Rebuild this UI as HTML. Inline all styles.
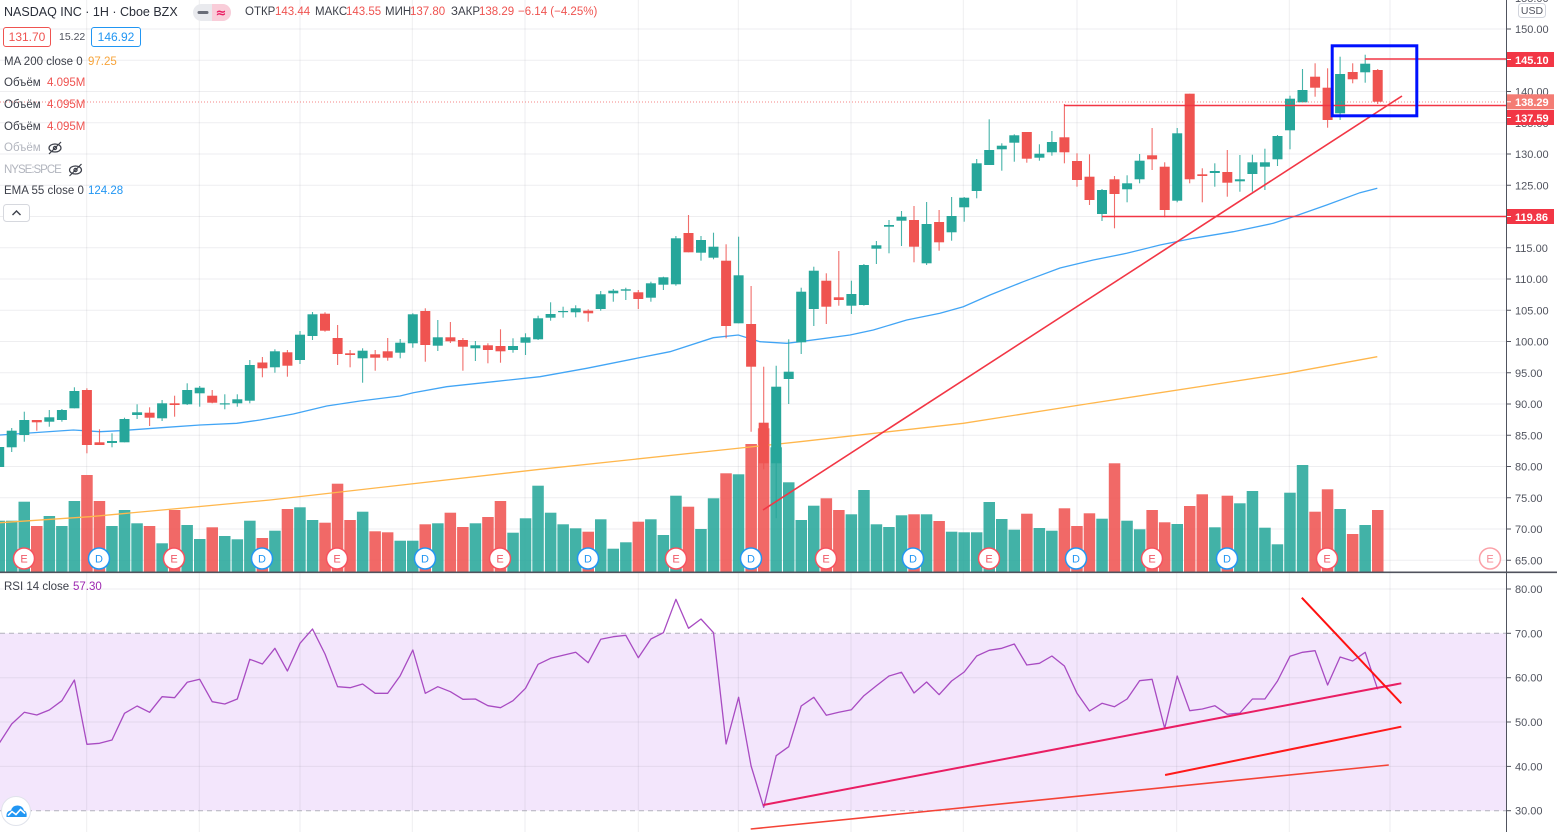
<!DOCTYPE html>
<html><head><meta charset="utf-8">
<style>
html,body{margin:0;padding:0;background:#fff;}
body{width:1557px;height:832px;overflow:hidden;position:relative;font-family:"Liberation Sans","DejaVu Sans",sans-serif;}
#c{position:absolute;left:0;top:0;}
.t{position:absolute;white-space:nowrap;font-size:11.5px;line-height:14px;color:#3d404a;}
.h{position:absolute;white-space:nowrap;font-size:11.5px;line-height:15px;top:5px;color:#3d404a;}
.r{color:#ef5350;}
.g{color:#b2b5be;}
.box{position:absolute;box-sizing:border-box;height:20px;line-height:18px;border-radius:3px;text-align:center;font-size:12px;background:#fff;}
</style></head><body>
<svg id="c" width="1557" height="832" viewBox="0 0 1557 832">
<rect x="0" y="633.3" width="1506" height="177.4" fill="#f3e6fc"/>
<g id="gGrid"></g>
<line x1="0" y1="633.3" x2="1506" y2="633.3" stroke="#9598a1" stroke-opacity="0.7" stroke-dasharray="5 4"/>
<line x1="0" y1="810.7" x2="1506" y2="810.7" stroke="#9598a1" stroke-opacity="0.7" stroke-dasharray="5 4"/>
<g id="gVol"></g>
<polyline fill="none" stroke="#ffb74d" stroke-width="1.3" points="0,522.7 90,516.7 270,500 540,469.3 800,441.7 963.3,423.3 1080,405 1286.7,373.3 1377.3,356.7"/>
<polyline fill="none" stroke="#42a5f5" stroke-width="1.3" points="0,435 73.3,430 100,431.7 120,430.7 166.7,427.3 200,425 236.7,423.3 260,420 293.3,414 326.7,406 360,401 400,396 413.3,392.7 446.7,386.7 493.3,381.7 540,376.7 586.7,368.3 636.7,358.3 670,351.7 713.3,337.7 738.3,335 760,341.7 786.7,343.3 800,341.7 850,335 873.3,330 906.7,320 940,313.3 963.3,306.7 990,295 1023.3,281.7 1060,268 1093.3,260 1126.7,253.3 1160,245 1193.3,238.3 1233.3,231.7 1273.3,223.3 1293.3,216.7 1326.7,205 1360,192.7 1377.3,188.3"/>
<g id="gCandle"></g>
<line x1="0" y1="102" x2="1506" y2="102" stroke="#ef5350" stroke-opacity="0.7" stroke-dasharray="1 2"/>
<line x1="763" y1="510" x2="1402" y2="96" stroke="#f23645" stroke-width="1.6"/>
<line x1="1365" y1="59" x2="1506" y2="59" stroke="#f23645" stroke-width="1.6"/>
<line x1="1064" y1="105.5" x2="1506" y2="105.5" stroke="#f23645" stroke-width="1.6"/>
<line x1="1102" y1="216.5" x2="1506" y2="216.5" stroke="#f23645" stroke-width="1.6"/>
<rect x="1332.2" y="45.8" width="84.6" height="70" fill="none" stroke="#0011ff" stroke-width="3"/>
<g font-size="11" text-anchor="middle" font-family="Liberation Sans, sans-serif">
<g fill="#fff" stroke="#f7525f" stroke-width="1.5">
<circle cx="24" cy="558.5" r="10.5"/><circle cx="174" cy="558.5" r="10.5"/><circle cx="337" cy="558.5" r="10.5"/><circle cx="500" cy="558.5" r="10.5"/><circle cx="676" cy="558.5" r="10.5"/><circle cx="826" cy="558.5" r="10.5"/><circle cx="989" cy="558.5" r="10.5"/><circle cx="1152" cy="558.5" r="10.5"/><circle cx="1327" cy="558.5" r="10.5"/>
<circle cx="1490" cy="558.5" r="10.5" stroke-opacity="0.55"/>
</g>
<g fill="#fff" stroke="#2196f3" stroke-width="1.5">
<circle cx="99" cy="558.5" r="10.5"/><circle cx="262" cy="558.5" r="10.5"/><circle cx="425" cy="558.5" r="10.5"/><circle cx="588" cy="558.5" r="10.5"/><circle cx="751" cy="558.5" r="10.5"/><circle cx="913" cy="558.5" r="10.5"/><circle cx="1076" cy="558.5" r="10.5"/><circle cx="1227" cy="558.5" r="10.5"/>
</g>
<g fill="#f05a68">
<text x="24" y="562.5">E</text><text x="174" y="562.5">E</text><text x="337" y="562.5">E</text><text x="500" y="562.5">E</text><text x="676" y="562.5">E</text><text x="826" y="562.5">E</text><text x="989" y="562.5">E</text><text x="1152" y="562.5">E</text><text x="1327" y="562.5">E</text><text x="1490" y="562.5" fill-opacity="0.7">E</text>
</g>
<g fill="#2196f3">
<text x="99" y="562.5">D</text><text x="262" y="562.5">D</text><text x="425" y="562.5">D</text><text x="588" y="562.5">D</text><text x="751" y="562.5">D</text><text x="913" y="562.5">D</text><text x="1076" y="562.5">D</text><text x="1227" y="562.5">D</text>
</g>
</g>
<g id="gRsi"></g>
<line x1="763.3" y1="805" x2="1401.3" y2="683.3" stroke="#e91e63" stroke-width="2"/>
<line x1="1165.1" y1="775" x2="1401.3" y2="726.7" stroke="#ff1a1a" stroke-width="2"/>
<line x1="750.7" y1="829" x2="1388.8" y2="765" stroke="#f44336" stroke-width="1.6"/>
<line x1="1301.8" y1="597.7" x2="1401.3" y2="703.3" stroke="#ff1111" stroke-width="2"/>
<rect x="1507" y="0" width="50" height="832" fill="#fff"/>
<line x1="1506.5" y1="0" x2="1506.5" y2="832" stroke="#50535e" stroke-width="1"/>
<line x1="0" y1="572.3" x2="1557" y2="572.3" stroke="#50535e" stroke-width="1.6"/>
<g stroke="#50535e" stroke-width="1">
<line x1="1506" y1="29" x2="1511" y2="29"/><line x1="1506" y1="91.5" x2="1511" y2="91.5"/><line x1="1506" y1="122.75" x2="1511" y2="122.75"/><line x1="1506" y1="154" x2="1511" y2="154"/><line x1="1506" y1="185.25" x2="1511" y2="185.25"/><line x1="1506" y1="247.75" x2="1511" y2="247.75"/><line x1="1506" y1="279" x2="1511" y2="279"/><line x1="1506" y1="310.25" x2="1511" y2="310.25"/><line x1="1506" y1="341.5" x2="1511" y2="341.5"/><line x1="1506" y1="372.75" x2="1511" y2="372.75"/><line x1="1506" y1="404" x2="1511" y2="404"/><line x1="1506" y1="435.25" x2="1511" y2="435.25"/><line x1="1506" y1="466.5" x2="1511" y2="466.5"/><line x1="1506" y1="497.75" x2="1511" y2="497.75"/><line x1="1506" y1="529" x2="1511" y2="529"/><line x1="1506" y1="560.25" x2="1511" y2="560.25"/>
<line x1="1506" y1="589" x2="1511" y2="589"/><line x1="1506" y1="633.3" x2="1511" y2="633.3"/><line x1="1506" y1="677.7" x2="1511" y2="677.7"/><line x1="1506" y1="722" x2="1511" y2="722"/><line x1="1506" y1="766.4" x2="1511" y2="766.4"/><line x1="1506" y1="810.7" x2="1511" y2="810.7"/>
</g>
<g fill="#50535e" font-size="11" font-family="Liberation Sans, sans-serif">
<text x="1515" y="2">155.00</text>
<text x="1515" y="33">150.00</text>
<text x="1515" y="64.25">145.00</text>
<text x="1515" y="95.5">140.00</text>
<text x="1515" y="126.75">135.00</text>
<text x="1515" y="158">130.00</text>
<text x="1515" y="189.25">125.00</text>
<text x="1515" y="220.5">120.00</text>
<text x="1515" y="251.75">115.00</text>
<text x="1515" y="283">110.00</text>
<text x="1515" y="314.25">105.00</text>
<text x="1515" y="345.5">100.00</text>
<text x="1515" y="376.75">95.00</text>
<text x="1515" y="408">90.00</text>
<text x="1515" y="439.25">85.00</text>
<text x="1515" y="470.5">80.00</text>
<text x="1515" y="501.75">75.00</text>
<text x="1515" y="533">70.00</text>
<text x="1515" y="564.25">65.00</text>
<text x="1515" y="593">80.00</text>
<text x="1515" y="637.3">70.00</text>
<text x="1515" y="681.7">60.00</text>
<text x="1515" y="726">50.00</text>
<text x="1515" y="770.4">40.00</text>
<text x="1515" y="814.7">30.00</text>
</g>
<rect x="1518.5" y="3.5" width="27" height="14" rx="3" fill="#fff" stroke="#d1d4dc"/>
<text x="1532" y="14.2" font-size="10.5" text-anchor="middle" fill="#50535e" font-family="Liberation Sans, sans-serif">USD</text>
<g font-size="11" font-weight="bold" fill="#fff" font-family="Liberation Sans, sans-serif">
<rect x="1507" y="52" width="47" height="15" fill="#f23645"/>
<line x1="1507" y1="59.5" x2="1511" y2="59.5" stroke="#fff"/>
<text x="1515" y="63.8">145.10</text>
<rect x="1507" y="94.3" width="47" height="15" fill="#f47c74"/>
<line x1="1507" y1="101.8" x2="1511" y2="101.8" stroke="#fff"/>
<text x="1515" y="106">138.29</text>
<rect x="1507" y="110" width="47" height="15" fill="#f23645"/>
<line x1="1507" y1="117.5" x2="1511" y2="117.5" stroke="#fff"/>
<text x="1515" y="121.8">137.59</text>
<rect x="1507" y="209" width="47" height="15" fill="#f23645"/>
<line x1="1507" y1="216.5" x2="1511" y2="216.5" stroke="#fff"/>
<text x="1515" y="220.8">119.86</text>
</g>
<rect x="193" y="4" width="38" height="17" rx="8.5" fill="#e9eaee"/>
<path d="M212 4 H222.5 A8.5 8.5 0 0 1 222.5 21 H212 Z" fill="#f9cdd9"/>
<line x1="199" y1="12.5" x2="207" y2="12.5" stroke="#6a6d78" stroke-width="3" stroke-linecap="round"/>
<text x="221" y="17" font-size="13" font-weight="bold" text-anchor="middle" fill="#e91e63" font-family="DejaVu Sans, sans-serif">≈</text>
<g fill="none" stroke="#3d404a" stroke-width="1.2">
<ellipse cx="55" cy="148" rx="6" ry="4"/><circle cx="55" cy="148" r="1.6"/><line x1="49" y1="154" x2="61" y2="142"/>
<ellipse cx="75.5" cy="170" rx="6" ry="4"/><circle cx="75.5" cy="170" r="1.6"/><line x1="69.5" y1="176" x2="81.5" y2="164"/>
</g>
<rect x="3.5" y="204.5" width="26" height="17" rx="3" fill="#fff" stroke="#d6d8de"/>
<polyline points="12.5,215 16.5,211 20.5,215" fill="none" stroke="#3d404a" stroke-width="1.4"/>
<circle cx="16" cy="811" r="14.5" fill="#fff" stroke="#e0e3eb"/>
<path d="M6.5,817 Q6,811 11,810.5 Q12.5,805 18,805.5 Q23,806 24,810.5 Q27.5,811.5 26.5,817 Z" fill="#2196f3"/>
<polyline points="8,815.5 12,811.5 16,814.5 20.5,809.5 25,813.5" fill="none" stroke="#fff" stroke-width="1.6"/>
</svg>

<div class="t" style="left:4px;top:4px;font-size:12.5px;line-height:16px;color:#2a2e39;">NASDAQ INC · 1H · Cboe BZX</div>
<div class="h" style="left:245px;">ОТКР</div><div class="h r" style="left:275px;">143.44</div>
<div class="h" style="left:315px;">МАКС</div><div class="h r" style="left:346px;">143.55</div>
<div class="h" style="left:385px;">МИН</div><div class="h r" style="left:410px;">137.80</div>
<div class="h" style="left:451px;">ЗАКР</div><div class="h r" style="left:479px;">138.29</div>
<div class="h r" style="left:518px;">−6.14 (−4.25%)</div>

<div class="box" style="left:3px;top:27px;width:48px;border:1px solid #ef5350;color:#ef5350;">131.70</div>
<div class="t" style="left:59px;top:30px;font-size:10.5px;color:#50535e;">15.22</div>
<div class="box" style="left:91px;top:27px;width:50px;border:1px solid #2196f3;color:#2196f3;">146.92</div>

<div class="t" style="left:4px;top:55px;">MA 200 close 0</div><div class="t" style="left:88px;top:55px;color:#f7a43b;">97.25</div>
<div class="t" style="left:4px;top:76px;">Объём</div><div class="t r" style="left:47px;top:76px;">4.095M</div>
<div class="t" style="left:4px;top:98px;">Объём</div><div class="t r" style="left:47px;top:98px;">4.095M</div>
<div class="t" style="left:4px;top:120px;">Объём</div><div class="t r" style="left:47px;top:120px;">4.095M</div>
<div class="t g" style="left:4px;top:141px;">Объём</div>
<div class="t g" style="left:4px;top:163px;letter-spacing:-1px;">NYSE:SPCE</div>
<div class="t" style="left:4px;top:184px;">EMA 55 close 0</div><div class="t" style="left:88px;top:184px;color:#2196f3;">124.28</div>
<div class="t" style="left:4px;top:580px;">RSI 14 close</div><div class="t" style="left:73px;top:580px;color:#9c27b0;">57.30</div>

<script>
(function(){
var X=function(i){return -0.8+12.532*i;};
var GC='#26a69a',RC='#ef5350';
var C=[
[1,447,467,445,470],[1,430.7,447.3,428,452],[1,420,435,411.7,441.7],[0,420,422.3,420,430.7],[1,417.3,421.7,410,426.7],
[1,410,420,409,421.7],[1,391,408.3,387.3,408.3],[0,390,445,388.3,453.3],[0,442.3,445,429.3,445],[1,441,443,433.3,447.3],
[1,419,442.3,417.7,442.3],[1,412.3,415,404.3,419],[0,412.7,417.7,407.3,426],[1,403.3,418.3,400,421],[0,403.3,405,395.7,416.7],
[1,390,404.3,383.3,405],[1,387.7,393.3,386,406.7],[0,395.7,402.7,390,403.3],[1,403.3,404.3,394.3,409.3],[1,399.3,403.3,394.3,406.7],
[1,365,400.7,360,403.3],[0,362.5,368.3,357,377.3],[1,351.3,367.3,349.3,372.7],[0,352.3,365.7,350,376.7],[1,334.7,360,331,364],
[1,314.3,336,312,340],[0,313.7,330.7,312.3,331.7],[0,338,354,325,365],[0,353.3,355,350,367.3],[1,350.7,358.3,348.3,382.7],
[0,354.3,357.7,350,370.7],[0,351.3,357.7,338,360.7],[1,342.7,352.7,339,358.3],[1,314.3,343.3,313.3,347.7],[0,311,345,308.3,361.7],
[1,337.3,345.7,320,351],[0,337.3,341.3,322,343],[0,340,346.7,338,370.7],[1,345.3,348.3,341,361],[0,345.3,350,343.3,363.3],
[0,346,351.3,329.3,362.7],[1,346,350,338.3,352.7],[1,337.3,342.7,333.3,355],[1,318.3,339.3,315.7,340],[1,314,317.7,302.3,320.7],
[1,311,312,306.7,317.7],[1,308.3,312.3,305.3,317.3],[0,310.7,313.3,309.3,321.7],[1,294.3,309,291,310.7],[1,290.7,293.3,289,301.7],
[1,289.3,290.7,287.7,300],[0,292.3,299,290,309],[1,283.3,297.7,281.7,301.7],[1,277.3,284.7,276.7,290],[1,238.3,284.3,236,285.7],
[0,233,252.3,215,252.3],[1,240,252.7,236,260.7],[1,246.7,257.7,232.7,259.3],[0,260.7,326,244.3,338.3],[1,275.3,323.3,236.7,323.3],
[0,324,366.7,286,431.7],[0,422.7,463.3,366.7,469.3],[1,386.7,463.3,365.7,518.3],[1,371.7,379,339.3,404],[1,291.7,342.3,287.7,354],
[1,270.7,309,266.7,326],[0,280.7,306.7,273.3,324],[0,297.3,300,251,305.7],[1,294,305.7,280.7,314],[1,265,305,264,305.7],
[1,245.3,248.7,241,264],[1,225,226.7,220,253.3],[1,216.7,220.7,211,246],[0,220,246.7,206,262.3],[1,224,263.3,202,265],
[0,222,242.3,210,250.7],[1,216,232.3,197,240.7],[1,197.7,207.3,197,221.7],[1,163.3,191,159,198.3],[1,150,165,119.3,165],
[1,145.7,149.3,143.3,170.7],[1,135.3,142.7,134.3,161.7],[0,132,158.7,132,162.7],[1,153.7,157.7,144.3,160.7],[1,142,152.3,131,155.7],
[0,137.3,152.3,104,163.3],[0,161,180,153.3,186.7],[0,176.7,200,154.3,205],[1,190,214,189,221],[0,179.3,194,176,228.3],
[1,183.3,189.3,175.3,202.3],[1,160.7,179.3,154,183.3],[0,155.3,159.3,128,170],[0,166.7,210,162.3,217.3],[1,133.3,200.7,128,202.3],
[0,93.7,179.3,93.7,183.3],[0,174.3,176,168.3,202.3],[1,171,173,163.3,186.7],[0,172,182.7,150,196.7],[1,179.3,181.3,155,191.7],
[1,162.3,174,154.7,191.7],[1,162.3,166.7,148.7,190],[1,136,159.3,135,166],[1,98.7,130.3,95.7,149.3],[1,90,102.3,69,102.3],
[0,76.7,87.7,63.3,96.7],[0,87.7,120,68.3,127.7],[1,74,113.3,56.7,120],[0,72,79.3,63.3,83.3],[1,63.7,72.3,54.7,82.7],
[0,70,101.7,69,104]];
var V=[520.7,520.7,501.7,526,516,526,501,475,501,526,
510,523.3,526,543.3,510,525,539,527.3,536,539.3,
520.7,538,530.7,509,507.3,520,522.7,483.7,520,511.7,
531.3,532.3,540.7,540.7,524.3,523.3,512.7,527,523.3,517,
501,532.7,518.3,485.7,512.7,524.3,528.3,531.7,519.3,548.7,
542.3,521.7,519.3,535,495.7,506.7,529,498.3,473.3,474.3,
444,428.3,447.3,482.3,520,505.7,498.3,510,514.3,490,
524.3,527,515.3,514.3,514.3,521,531.7,532.3,532.3,502,
519,529.7,513.7,528,530.7,508.3,526,513.3,518.7,463.3,
520.7,529.3,510,522.3,524,506,494.3,527.3,495.7,503.3,
491,527.7,544.3,492.7,465,511.7,489.3,509,534,525,510];
var R=[743.3,724,712.3,715,710,700.7,680,744.3,743.3,740,
713.3,706,712.3,696.7,697.7,682.3,679.3,701.7,704,699,
659.3,664,648.3,671,643.3,629,654,686.7,687.7,684,
693.3,693.3,675.7,650,693.3,686.7,691.7,699.3,699,705.7,
707.7,700.7,688.3,664.3,658.3,655.3,652.3,662.7,639.3,636.7,
635.3,657.7,639,632.7,599.3,628.3,619,632.7,744,697.3,
766,807.3,755.7,746.7,706,697.3,715.3,712.3,709.7,695.7,
685.7,676,672.3,693,682,694.7,681,672,656,650.3,
648.3,644,665,663.3,656,666,693.3,711,703.3,706.7,
699,680.7,679.3,728.3,676,710.7,709,705.7,714.3,713,
699,699,681,656.3,652.3,650.7,685,657,661,652.3,689.3];
var f=function(n){return (Math.round(n*10)/10).toString();};
var s='',i;
var vx=[86.7,199.3,300,412.3,525,638.3,738.3,851,963.3,1077,1176.7,1289.3,1390];
var gs='stroke="#7a7e8c" stroke-opacity="0.13" stroke-width="1"';
for(i=0;i<vx.length;i++){s+='<line x1="'+vx[i]+'" y1="0" x2="'+vx[i]+'" y2="832" '+gs+'/>';}
for(var p=65;p<=150;p+=5){var y=29+(150-p)*6.25;s+='<line x1="0" y1="'+y+'" x2="1506" y2="'+y+'" '+gs+'/>';}
[589,677.7,722,766.4].forEach(function(y){s+='<line x1="0" y1="'+y+'" x2="1506" y2="'+y+'" '+gs+'/>';});
document.getElementById('gGrid').innerHTML=s;
s='';
for(i=0;i<V.length;i++){var x=X(i);s+='<rect x="'+f(x-5.75)+'" y="'+V[i]+'" width="11.5" height="'+f(572-V[i])+'" fill="'+(C[i][0]?GC:RC)+'" fill-opacity="0.87"/>';}
document.getElementById('gVol').innerHTML=s;
s='';
for(i=0;i<C.length;i++){var c=C[i],x=X(i),col=c[0]?GC:RC;
s+='<line x1="'+f(x)+'" y1="'+c[3]+'" x2="'+f(x)+'" y2="'+c[4]+'" stroke="'+col+'" stroke-width="1.1" stroke-opacity="0.85"/>';
var h=Math.max(1.2,c[2]-c[1]);
s+='<rect x="'+f(x-5)+'" y="'+c[1]+'" width="10" height="'+f(h)+'" fill="'+col+'"/>';}
document.getElementById('gCandle').innerHTML=s;
var pts=[];for(i=0;i<R.length;i++){pts.push(f(X(i))+','+R[i]);}
document.getElementById('gRsi').innerHTML='<polyline fill="none" stroke="#a84bc2" stroke-width="1.3" stroke-linejoin="round" points="'+pts.join(' ')+'"/>';
})();
</script>
</body></html>
